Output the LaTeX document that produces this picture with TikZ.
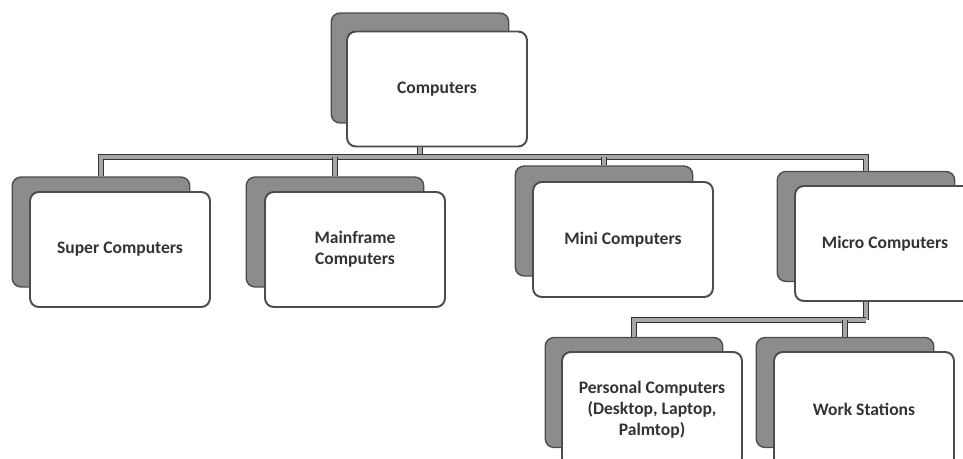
\documentclass[tikz,border=0pt]{standalone}
\usepackage{fontspec}
\setmainfont{Carlito}

\tikzset{
    backbox/.style={draw=black!70, fill=black!45, rounded corners=5pt, line width=0.8pt,
        minimum width=3.55cm, minimum height=2.2cm, inner sep=0pt},
    frontbox/.style={draw=black!70, fill=white, rounded corners=5pt, line width=1.1pt,
        minimum width=3.6cm, minimum height=2.3cm, align=center, text=black!80,
        font=\bfseries\normalsize, inner sep=2pt},
    bus/.style={draw=black!80, line width=0.5pt, double=black!35, double distance=2.8pt}
}

\begin{document}
\begin{tikzpicture}[x=0.02cm, y=-0.02cm]
    \useasboundingbox (0,0) rectangle (963,459);

    \node (compb) at (420,68) [backbox] {};
    \node (comp) at (437,89) [frontbox] {Computers};

    \node (superb) at (101,232) [backbox] {};
    \node (super) at (120,249.5) [frontbox] {Super Computers};

    \node (mainb) at (335,232) [backbox] {};
    \node (main) at (355,249.5) [frontbox] {Mainframe\\Computers};

    \node (minib) at (604,221) [backbox] {};
    \node (mini) at (623,239.5) [frontbox] {Mini Computers};

    \node (microb) at (866,226.5) [backbox] {};
    \node (micro) at (885,243.5) [frontbox] {Micro Computers};

    \node (persb) at (634,392.5) [backbox] {};
    \node (pers) at (652,409.5) [frontbox] {Personal Computers\\(Desktop, Laptop,\\Palmtop)};

    \node (workb) at (845,392.5) [backbox] {};
    \node (work) at (864,409.5) [frontbox] {Work Stations};

    \coordinate (topbus) at (0,157);
    \coordinate (lowbus) at (0,320);

    \draw[bus] (compb.north |- comp.south) -- (compb.north |- topbus);
    \draw[bus] (superb.north) -- (superb.north |- topbus) -- (microb.north |- topbus) -- (microb.north);
    \draw[bus] (mainb.north) -- (mainb.north |- topbus);
    \draw[bus] (minib.north) -- (minib.north |- topbus);

    \draw[bus] (microb.north |- micro.south) -- (microb.north |- lowbus);
    \draw[bus] (persb.north) -- (persb.north |- lowbus) -- (microb.north |- lowbus);
    \draw[bus] (workb.north) -- (workb.north |- lowbus);
\end{tikzpicture}
\end{document}
